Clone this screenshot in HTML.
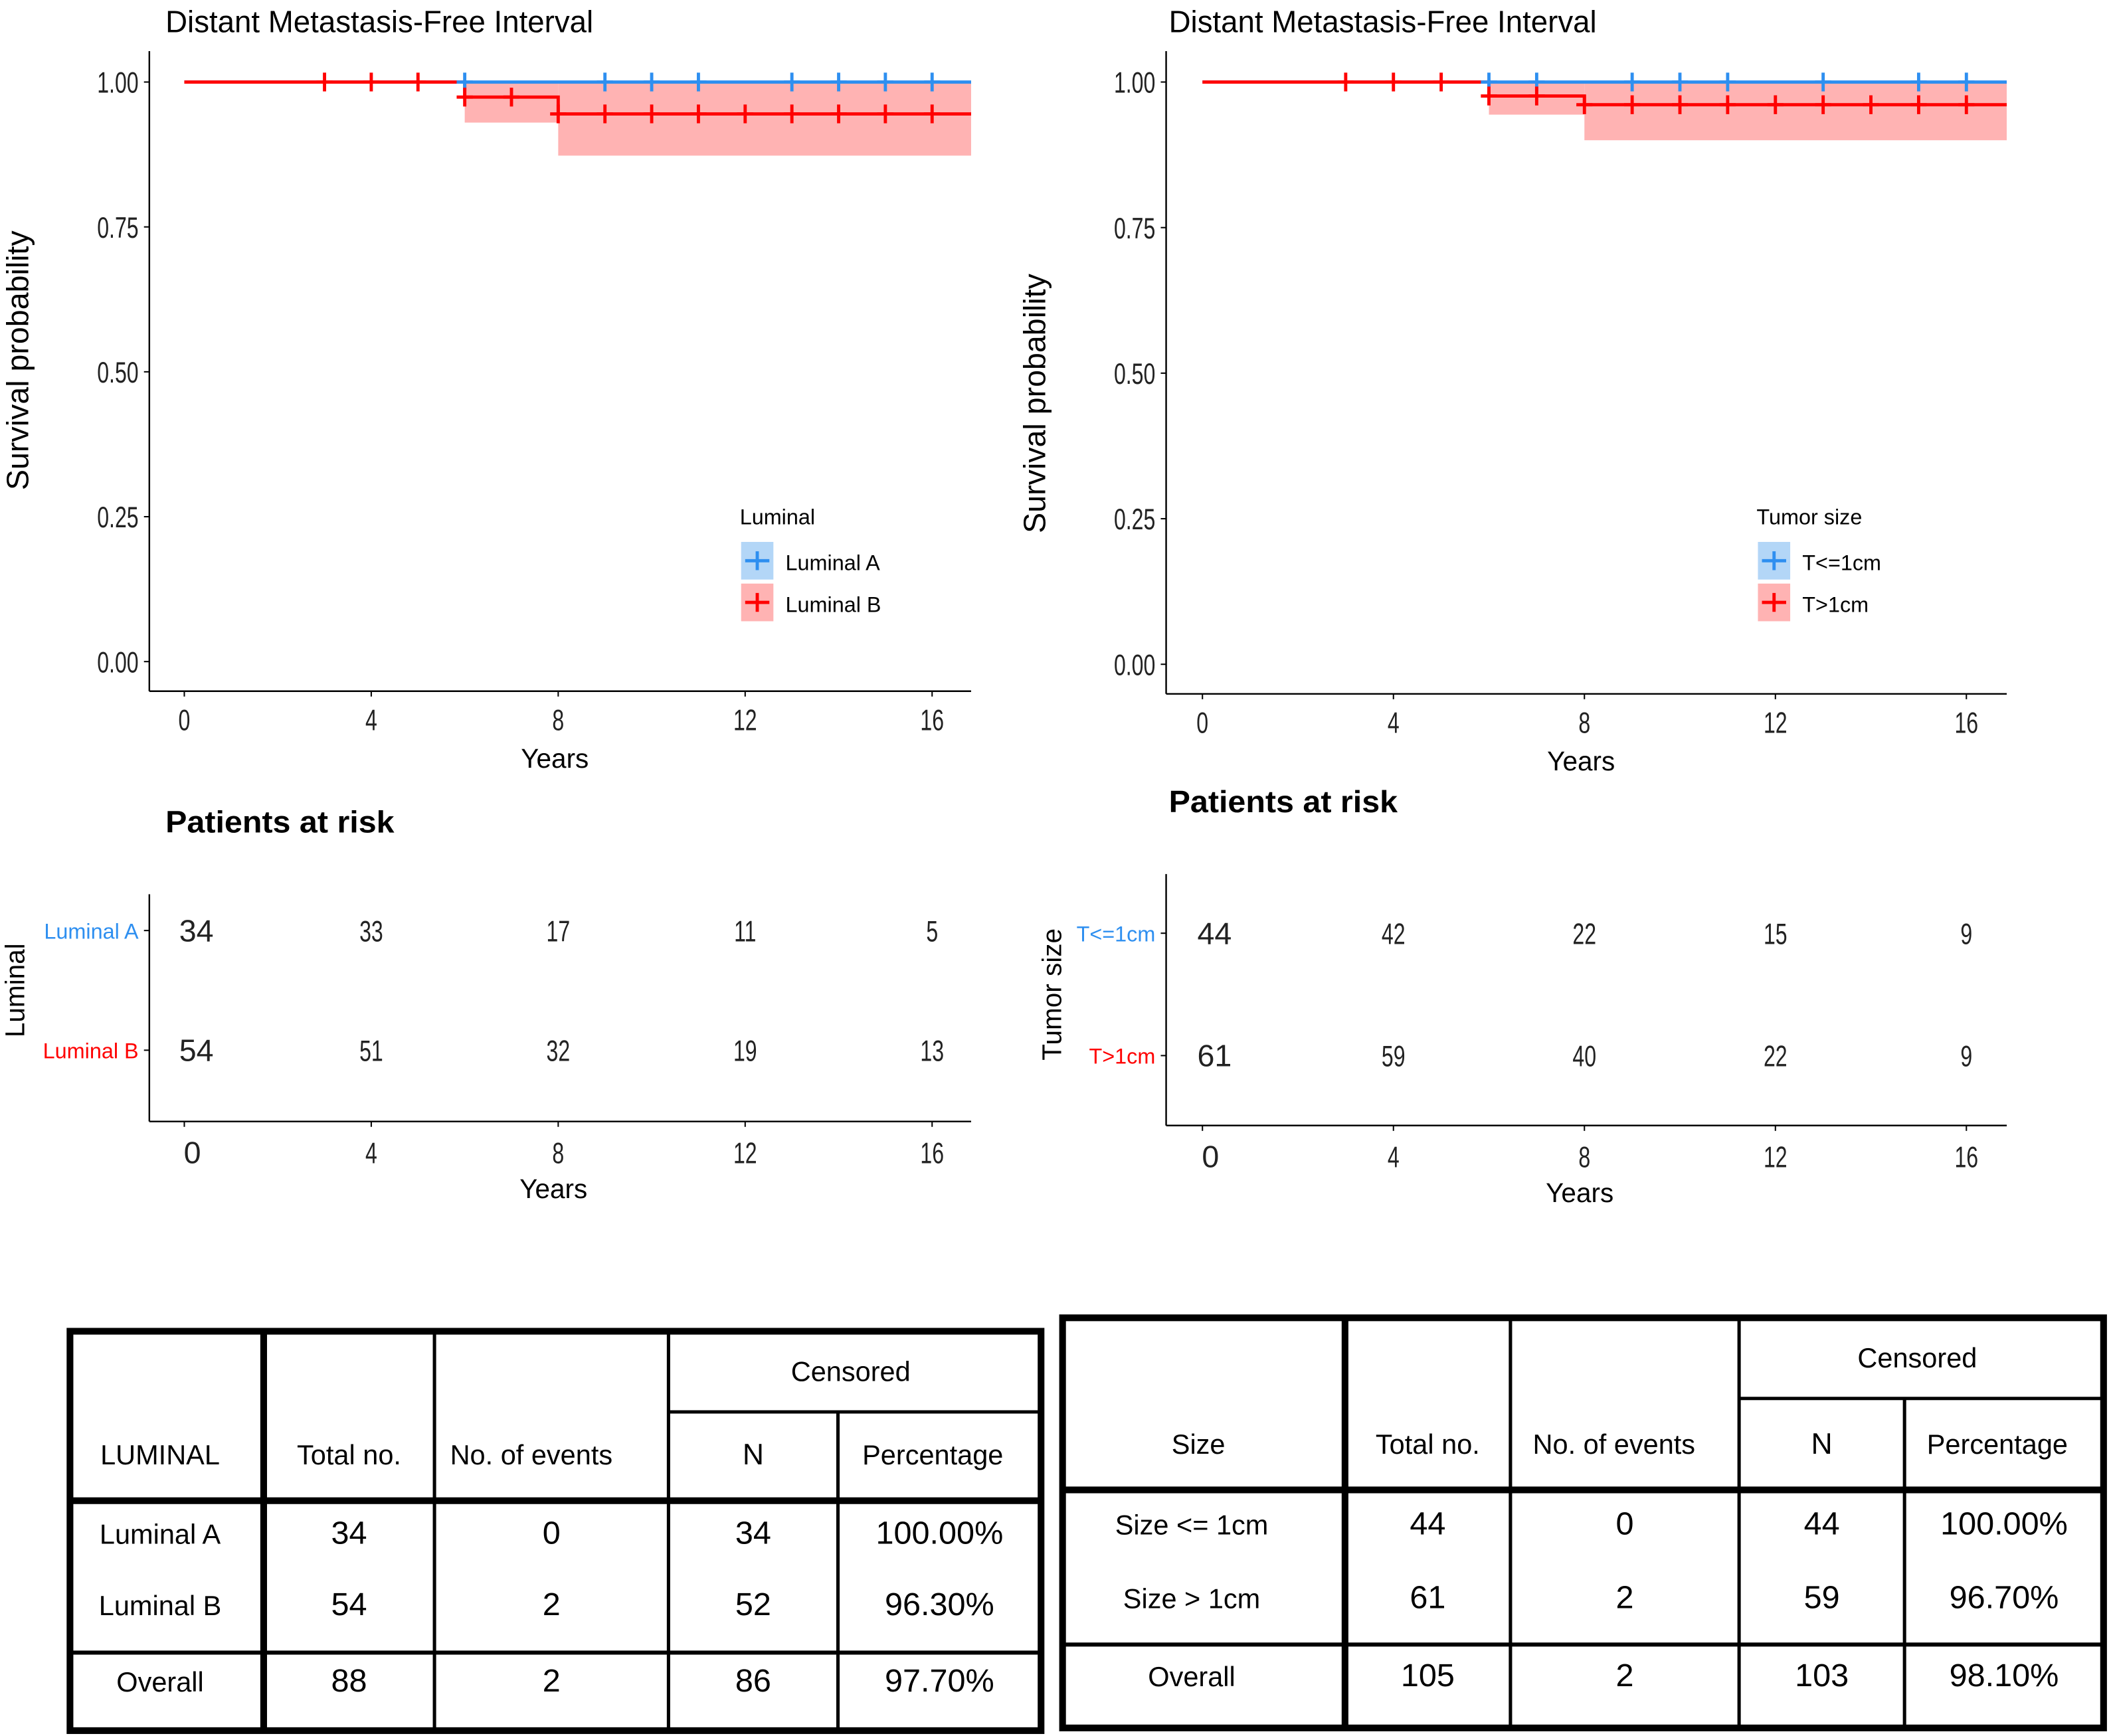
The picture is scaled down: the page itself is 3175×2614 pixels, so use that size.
<!DOCTYPE html>
<html><head><meta charset="utf-8"><style>
html,body{margin:0;padding:0;background:#fff;}
svg{display:block;font-family:"Liberation Sans",sans-serif;}
</style></head><body>
<svg id="s" width="3175" height="2614" viewBox="0 0 1568 1291" xmlns="http://www.w3.org/2000/svg">
<rect width="1568" height="1291" fill="#fff"/>
<g id="root"></g>
</svg>
<script>
// ---- data ----
const yTicks = [0, 0.25, 0.5, 0.75, 1.0];
const xTicks = [0, 4, 8, 12, 16];
// Left panel (Luminal)
const lumA_steps_t = [0];
const lumA_steps_s = [1.0];
const lumA_censor = [6, 9, 10, 11, 13, 14, 15, 16];
const lumB_steps_t = [0, 6, 8];
const lumB_steps_s = [1.0, 0.974, 0.945];
const lumB_lower = [1.0, 0.93, 0.873];
const lumB_censor = [3, 4, 5, 6, 7, 8, 9, 10, 11, 12, 13, 14, 15, 16];
const lumRiskA = [34, 33, 17, 11, 5];
const lumRiskB = [54, 51, 32, 19, 13];
// Right panel (Tumor size)
const tsA_steps_t = [0];
const tsA_steps_s = [1.0];
const tsA_censor = [6, 7, 9, 10, 11, 13, 15, 16];
const tsB_steps_t = [0, 6, 8];
const tsB_steps_s = [1.0, 0.976, 0.961];
const tsB_lower = [1.0, 0.944, 0.9];
const tsB_censor = [3, 4, 5, 6, 7, 8, 9, 10, 11, 12, 13, 14, 15, 16];
const tsRiskA = [44, 42, 22, 15, 9];
const tsRiskB = [61, 59, 40, 22, 9];

const NS = "http://www.w3.org/2000/svg";
const root = document.getElementById('root');
function el(tag, attrs, parent, text) {
  const e = document.createElementNS(NS, tag);
  for (const k in attrs) e.setAttribute(k, attrs[k]);
  if (text !== undefined) e.textContent = text;
  (parent || root).appendChild(e);
  return e;
}
function narrow(x, f) { return `translate(${x},0) scale(${f},1) translate(${-x},0)`; }

function panel(cfg) {
  const g = el('g', {});
  
  
  const X = t => cfg.x0 + t * cfg.sx;
  const Y = v => cfg.y0 - v * cfg.sy;
  const ti = el('text', {x: cfg.titleX, y: 24, 'font-size': 23, transform: narrow(cfg.titleX, 0.98)}, g, 'Distant Metastasis-Free Interval');
   
  el('line', {x1: cfg.axL, y1: 38, x2: cfg.axL, y2: cfg.axB, stroke: '#000', 'stroke-width': 1.2}, g);
  el('line', {x1: cfg.axL, y1: cfg.axB, x2: cfg.axR, y2: cfg.axB, stroke: '#000', 'stroke-width': 1.2}, g);
  yTicks.forEach(v => {
    el('line', {x1: cfg.axL - 4, y1: Y(v), x2: cfg.axL, y2: Y(v), stroke: '#000'}, g);
    const t = el('text', {x: cfg.axL - 8, y: Y(v) + 8, 'font-size': 22, 'text-anchor': 'end', fill: '#222', transform: narrow(cfg.axL - 8, 0.72)}, g, v.toFixed(2));
     
  });
  xTicks.forEach(v => {
    el('line', {x1: X(v), y1: cfg.axB, x2: X(v), y2: cfg.axB + 4, stroke: '#000'}, g);
    const t = el('text', {x: X(v), y: cfg.axB + 29, 'font-size': 22, 'text-anchor': 'middle', fill: '#222', transform: narrow(X(v), 0.72)}, g, v);
     
  });
  const xt = el('text', {x: (cfg.axL + cfg.axR) / 2 - 4, y: cfg.axB + 57, 'font-size': 20, 'text-anchor': 'middle'}, g, 'Years');
   
  const yt = el('text', {x: 0, y: 0, 'font-size': 23, 'text-anchor': 'middle', transform: `translate(${cfg.axL - 90},${cfg.yTitleY}) rotate(-90)`}, g, 'Survival probability');
   
  const tEnd = (cfg.axR - cfg.x0) / cfg.sx;
  for (let i = 0; i < cfg.bT.length; i++) {
    const t1 = cfg.bT[i], t2 = i + 1 < cfg.bT.length ? cfg.bT[i + 1] : tEnd;
    const upper = 1.0;
    if (cfg.bL[i] < upper) {
      const r = el('rect', {x: X(t1), y: Y(upper), width: X(t2) - X(t1), height: Y(cfg.bL[i]) - Y(upper), fill: '#ffb3b3'}, g);
       
    }
  }
  function stepPath(ts, ss, color, name) {
    let d = `M${X(ts[0])},${Y(ss[0])}`;
    for (let i = 1; i < ts.length; i++) d += ` H${X(ts[i])} V${Y(ss[i])}`;
    d += ` H${X(tEnd)}`;
    const p = el('path', {d: d, fill: 'none', stroke: color, 'stroke-width': 2.4}, g);
     
  }
  function sAt(ts, ss, t) { let s = ss[0]; for (let i = 0; i < ts.length; i++) if (t >= ts[i]) s = ss[i]; return s; }
  function censors(list, ts, ss, color, name) {
    list.forEach(t => {
      const s = sAt(ts, ss, t);
      const c = el('path', {d: `M${X(t)-6},${Y(s)} H${X(t)+6} M${X(t)},${Y(s)-7} V${Y(s)+7}`, stroke: color, 'stroke-width': 2.4}, g);
       
    });
  }
  stepPath(cfg.aT, cfg.aS, '#2e8ff0', 'curve-a');
  stepPath(cfg.bT, cfg.bS, '#ff0000', 'curve-b');
  censors(cfg.aC, cfg.aT, cfg.aS, '#2e8ff0', 'censor-mark-a');
  censors(cfg.bC, cfg.bT, cfg.bS, '#ff0000', 'censor-mark-b');
  const lg = el('g', {}, g);
   
  el('text', {x: cfg.legX, y: 390, 'font-size': 16}, lg, cfg.legTitle);
  [[cfg.legA, '#2e8ff0', '#b3d6f7', 403], [cfg.legB, '#ff0000', '#ffb3b3', 434]].forEach(([lab, c, f, yy]) => {
    el('rect', {x: cfg.legX + 1, y: yy, width: 24, height: 28, fill: f}, lg);
    el('path', {d: `M${cfg.legX+4},${yy+14} H${cfg.legX+22} M${cfg.legX+13},${yy+7} V${yy+21}`, stroke: c, 'stroke-width': 2.4}, lg);
    const t = el('text', {x: cfg.legX + 34, y: yy + 21, 'font-size': 16}, lg, lab);
     
  });
  const rg = el('g', {}, g);
   
  el('text', {x: cfg.titleX, y: cfg.riskTitleY, 'font-size': 23, 'font-weight': 'bold', transform: narrow(cfg.titleX, 1.04)}, rg, 'Patients at risk');
  el('line', {x1: cfg.axL, y1: cfg.rTop, x2: cfg.axL, y2: cfg.rBot, stroke: '#000', 'stroke-width': 1.2}, rg);
  el('line', {x1: cfg.axL, y1: cfg.rBot, x2: cfg.axR, y2: cfg.rBot, stroke: '#000', 'stroke-width': 1.2}, rg);
  [[cfg.legA, cfg.rA, cfg.rYA, '#2e8ff0'], [cfg.legB, cfg.rB, cfg.rYB, '#ff0000']].forEach(([lab, vals, yy, c]) => {
    el('line', {x1: cfg.axL - 4, y1: yy, x2: cfg.axL, y2: yy, stroke: '#000'}, rg);
    el('text', {x: cfg.axL - 8, y: yy + 6, 'font-size': 16, 'text-anchor': 'end', fill: c}, rg, lab);
    vals.forEach((v, i) => {
      const xx = X(xTicks[i]) + (i === 0 ? 9 : 0);
      const t = el('text', {x: xx, y: yy + 8, 'font-size': i === 0 ? 23 : 22, 'text-anchor': 'middle', fill: '#222', transform: i === 0 ? '' : narrow(xx, 0.72)}, rg, v);
       
    });
  });
  xTicks.forEach((v, i) => {
    el('line', {x1: X(v), y1: cfg.rBot, x2: X(v), y2: cfg.rBot + 4, stroke: '#000'}, rg);
    const xx = X(v) + (i === 0 ? 6 : 0);
    el('text', {x: xx, y: cfg.rBot + 31, 'font-size': i === 0 ? 23 : 22, 'text-anchor': 'middle', fill: '#222', transform: i === 0 ? '' : narrow(xx, 0.72)}, rg, v);
  });
  el('text', {x: (cfg.axL + cfg.axR) / 2 - 5, y: cfg.rBot + 57, 'font-size': 20, 'text-anchor': 'middle'}, rg, 'Years');
  el('text', {x: 0, y: 0, 'font-size': 20, 'text-anchor': 'middle', transform: `translate(${cfg.rLabX},${(cfg.rYA + cfg.rYB) / 2}) rotate(-90)`}, rg, cfg.legTitle);
}

panel({name: 'luminal-panel', x0: 137, sx: 34.75, y0: 492, sy: 431, axL: 111, axR: 722, axB: 514, titleX: 123, yTitleY: 268,
  aT: lumA_steps_t, aS: lumA_steps_s, aC: lumA_censor, bT: lumB_steps_t, bS: lumB_steps_s, bL: lumB_lower, bC: lumB_censor,
  legX: 550, legTitle: 'Luminal', legA: 'Luminal A', legB: 'Luminal B',
  riskTitleY: 619, rTop: 665, rBot: 834, rYA: 692, rYB: 781, rA: lumRiskA, rB: lumRiskB, rLabX: 18});
panel({name: 'tumor-size-panel', x0: 894, sx: 35.5, y0: 494, sy: 433, axL: 867, axR: 1492, axB: 516, titleX: 869, yTitleY: 300,
  aT: tsA_steps_t, aS: tsA_steps_s, aC: tsA_censor, bT: tsB_steps_t, bS: tsB_steps_s, bL: tsB_lower, bC: tsB_censor,
  legX: 1306, legTitle: 'Tumor size', legA: 'T<=1cm', legB: 'T>1cm',
  riskTitleY: 604, rTop: 650, rBot: 837, rYA: 694, rYB: 785, rA: tsRiskA, rB: tsRiskB, rLabX: 789});

function table(c) {
  const g = el('g', {});
   
  const [L, T, R, B] = c.box;
  const [c1, c2, c3, c4] = c.cols;
  el('rect', {x: L, y: T, width: R - L, height: B - T, fill: 'none', stroke: '#000', 'stroke-width': 5}, g);
  el('line', {x1: c1, y1: T, x2: c1, y2: B, stroke: '#000', 'stroke-width': 5}, g);
  [c2, c3].forEach(x => el('line', {x1: x, y1: T, x2: x, y2: B, stroke: '#000', 'stroke-width': 2.5}, g));
  el('line', {x1: c4, y1: c.split, x2: c4, y2: B, stroke: '#000', 'stroke-width': 2.5}, g);
  el('line', {x1: c3, y1: c.split, x2: R, y2: c.split, stroke: '#000', 'stroke-width': 2.5}, g);
  el('line', {x1: L, y1: c.hb, x2: R, y2: c.hb, stroke: '#000', 'stroke-width': 5}, g);
  el('line', {x1: L, y1: c.bb, x2: R, y2: c.bb, stroke: '#000', 'stroke-width': 3}, g);
  const fs = 20.5;
  const hy = c.hb - 27;
  el('text', {x: c.h0x, y: hy, 'font-size': fs, 'text-anchor': 'middle'}, g, c.h0);
  el('text', {x: (c1 + c2) / 2, y: hy, 'font-size': fs, 'text-anchor': 'middle'}, g, 'Total no.');
  el('text', {x: (c2 + c3) / 2 - c.evShift, y: hy, 'font-size': fs, 'text-anchor': 'middle'}, g, 'No. of events');
  el('text', {x: (c3 + c4) / 2, y: hy, 'font-size': 22, 'text-anchor': 'middle'}, g, 'N');
  el('text', {x: (c4 + R) / 2 - 5, y: hy, 'font-size': fs, 'text-anchor': 'middle'}, g, 'Percentage');
  el('text', {x: (c3 + R) / 2 - 3, y: (T + c.split) / 2 + 7, 'font-size': fs, 'text-anchor': 'middle'}, g, 'Censored');
  c.rows.forEach((row, i) => {
    const y = c.rowY[i];
    const xs = [c.labX, (c1 + c2) / 2, (c2 + c3) / 2, (c3 + c4) / 2, (c4 + R) / 2];
    row.forEach((v, j) => {
      const t = el('text', {x: xs[j], y: y, 'font-size': j === 0 ? 20.5 : 24, 'text-anchor': 'middle'}, g, v);
       
    });
  });
}
table({name: 'luminal-table', box: [52, 990, 774, 1287], cols: [196, 323, 497, 623], split: 1050, hb: 1116, bb: 1229,
  h0: 'LUMINAL', h0x: 119, labX: 119, evShift: 15, rowY: [1148, 1201, 1258],
  rows: [['Luminal A', '34', '0', '34', '100.00%'], ['Luminal B', '54', '2', '52', '96.30%'], ['Overall', '88', '2', '86', '97.70%']]});
table({name: 'tumor-size-table', box: [790, 980, 1564, 1285], cols: [1000, 1123, 1293, 1416], split: 1040, hb: 1108, bb: 1223,
  h0: 'Size', h0x: 891, labX: 886, evShift: 8, rowY: [1141, 1196, 1254],
  rows: [['Size <= 1cm', '44', '0', '44', '100.00%'], ['Size > 1cm', '61', '2', '59', '96.70%'], ['Overall', '105', '2', '103', '98.10%']]});
</script>
</body></html>
